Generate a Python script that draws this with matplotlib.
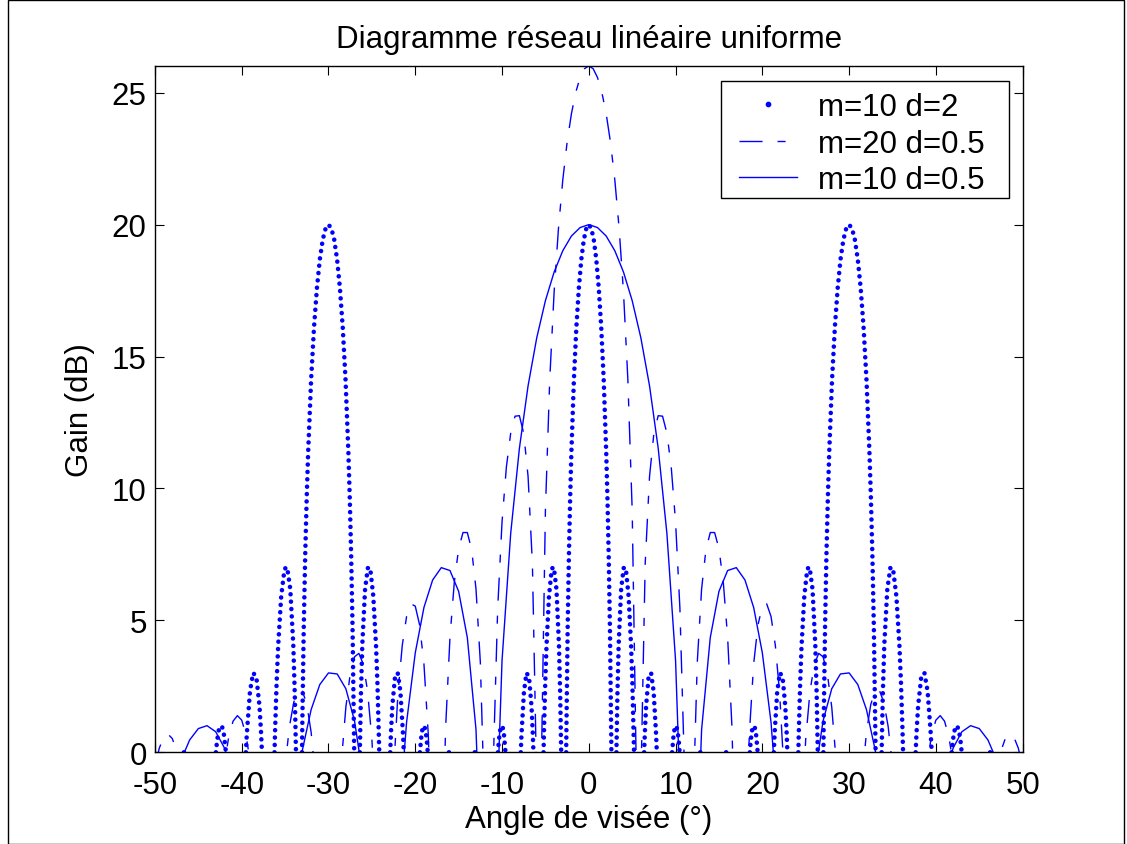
import numpy as np
import matplotlib
matplotlib.use("Agg")
import matplotlib.pyplot as plt
from matplotlib.lines import Line2D
from matplotlib.patches import Rectangle

plt.rcParams['font.family'] = ['Liberation Sans', 'DejaVu Sans']
plt.rcParams['axes.unicode_minus'] = False

NAN = float('nan')

title = "Diagramme réseau linéaire uniforme"
x_label = "Angle de visée (°)"
y_label = "Gain (dB)"
series_labels = ['m=10 d=2', 'm=20 d=0.5', 'm=10 d=0.5']
x_ticks = [-50, -40, -30, -20, -10, 0, 10, 20, 30, 40, 50]
y_ticks = [0, 5, 10, 15, 20, 25]

# m=10 d=2 (dotted): visible lobes, separated by NaN
angle_m10_d2 = [
    -46.660, -46.469, -46.249, NAN,
    -42.977, -42.844, -42.649, -42.454, -42.260, -42.067, -41.817, NAN,
    -39.520, -39.420, -39.050, -38.682, -38.316, -37.952, -37.771, -37.669, NAN,
    -36.221, -36.157, -35.980, -35.803, -35.451, -35.100, -34.925, -34.750, -34.402, -34.056, -33.883, -33.749, NAN,
    -33.055, -33.025, -32.854, -32.684, -32.514, -32.344, -32.005, -31.668, -31.332, -30.997, -30.664, -30.331,
    -30.000, -29.670, -29.341, -29.012, -28.685, -28.359, -28.034, -27.710, -27.549, -27.387, -27.226, -27.065, -27.036, NAN,
    -26.388, -26.264, -26.104, -25.785, -25.468, -25.309, -25.151, -24.835, -24.519, -24.362, -24.205, -24.148, NAN,
    -22.887, -22.800, -22.644, -22.334, -22.024, -21.715, -21.407, -21.325, NAN,
    -19.466, -19.269, -19.117, -18.966, -18.814, -18.664, -18.561, NAN,
    -16.119, -15.961, -15.825, NAN,
    -13.138, -13.003, -12.847, NAN,
    -10.469, -10.370, -10.224, -10.079, -9.933, -9.788, -9.599, NAN,
    -7.837, -7.759, -7.470, -7.181, -6.892, -6.604, -6.459, -6.379, NAN,
    -5.215, -5.164, -5.020, -4.876, -4.589, -4.301, -4.158, -4.014, -3.727, -3.440, -3.296, -3.184, NAN,
    -2.605, -2.579, -2.436, -2.292, -2.149, -2.006, -1.719, -1.433, -1.146, -0.860, -0.573, -0.287,
    0.000, 0.287, 0.573, 0.860, 1.146, 1.433, 1.719, 2.006, 2.149, 2.292, 2.436, 2.579, 2.605, NAN,
    3.184, 3.296, 3.440, 3.727, 4.014, 4.158, 4.301, 4.589, 4.876, 5.020, 5.164, 5.215, NAN,
    6.379, 6.459, 6.604, 6.892, 7.181, 7.470, 7.759, 7.837, NAN,
    9.599, 9.788, 9.933, 10.079, 10.224, 10.370, 10.469, NAN,
    12.847, 13.003, 13.138, NAN,
    15.825, 15.961, 16.119, NAN,
    18.561, 18.664, 18.814, 18.966, 19.117, 19.269, 19.466, NAN,
    21.325, 21.407, 21.715, 22.024, 22.334, 22.644, 22.800, 22.887, NAN,
    24.148, 24.205, 24.362, 24.519, 24.835, 25.151, 25.309, 25.468, 25.785, 26.104, 26.264, 26.388, NAN,
    27.036, 27.065, 27.226, 27.387, 27.549, 27.710, 28.034, 28.359, 28.685, 29.012, 29.341, 29.670,
    30.000, 30.331, 30.664, 30.997, 31.332, 31.668, 32.005, 32.344, 32.514, 32.684, 32.854, 33.025, 33.055, NAN,
    33.749, 33.883, 34.056, 34.402, 34.750, 34.925, 35.100, 35.451, 35.803, 35.980, 36.157, 36.221, NAN,
    37.669, 37.771, 37.952, 38.316, 38.682, 39.050, 39.420, 39.520, NAN,
    41.817, 42.067, 42.260, 42.454, 42.649, 42.844, 42.977, NAN,
    46.249, 46.469, 46.660,
]
gain_m10_d2 = [
    0, 0.11, 0, NAN,
    0, 0.43, 0.83, 1.00, 0.97, 0.71, 0, NAN,
    0, 0.66, 2.31, 3.01, 2.86, 1.75, 0.74, 0, NAN,
    0, 0.80, 2.63, 4.02, 5.91, 6.86, 7.02, 6.98, 6.18, 4.07, 2.17, 0, NAN,
    0, 0.89, 4.71, 7.47, 9.63, 11.38, 14.11, 16.11, 17.60, 18.69, 19.43, 19.86,
    20.00, 19.86, 19.43, 18.69, 17.60, 16.11, 14.11, 11.38, 9.63, 7.47, 4.71, 0.89, 0, NAN,
    0, 2.17, 4.07, 6.18, 6.98, 7.02, 6.86, 5.91, 4.02, 2.63, 0.80, 0, NAN,
    0, 0.74, 1.75, 2.86, 3.01, 2.31, 0.66, 0, NAN,
    0, 0.71, 0.97, 1.00, 0.83, 0.43, 0, NAN,
    0, 0.11, 0, NAN,
    0, 0.11, 0, NAN,
    0, 0.43, 0.83, 1.00, 0.97, 0.71, 0, NAN,
    0, 0.66, 2.31, 3.01, 2.86, 1.75, 0.74, 0, NAN,
    0, 0.80, 2.63, 4.02, 5.91, 6.86, 7.02, 6.98, 6.18, 4.07, 2.17, 0, NAN,
    0, 0.89, 4.71, 7.47, 9.63, 11.38, 14.11, 16.11, 17.60, 18.69, 19.43, 19.86,
    20.00, 19.86, 19.43, 18.69, 17.60, 16.11, 14.11, 11.38, 9.63, 7.47, 4.71, 0.89, 0, NAN,
    0, 2.17, 4.07, 6.18, 6.98, 7.02, 6.86, 5.91, 4.02, 2.63, 0.80, 0, NAN,
    0, 0.74, 1.75, 2.86, 3.01, 2.31, 0.66, 0, NAN,
    0, 0.71, 0.97, 1.00, 0.83, 0.43, 0, NAN,
    0, 0.11, 0, NAN,
    0, 0.11, 0, NAN,
    0, 0.43, 0.83, 1.00, 0.97, 0.71, 0, NAN,
    0, 0.66, 2.31, 3.01, 2.86, 1.75, 0.74, 0, NAN,
    0, 0.80, 2.63, 4.02, 5.91, 6.86, 7.02, 6.98, 6.18, 4.07, 2.17, 0, NAN,
    0, 0.89, 4.71, 7.47, 9.63, 11.38, 14.11, 16.11, 17.60, 18.69, 19.43, 19.86,
    20.00, 19.86, 19.43, 18.69, 17.60, 16.11, 14.11, 11.38, 9.63, 7.47, 4.71, 0.89, 0, NAN,
    0, 2.17, 4.07, 6.18, 6.98, 7.02, 6.86, 5.91, 4.02, 2.63, 0.80, 0, NAN,
    0, 0.74, 1.75, 2.86, 3.01, 2.31, 0.66, 0, NAN,
    0, 0.71, 0.97, 1.00, 0.83, 0.43, 0, NAN,
    0, 0.11, 0,
]

# m=20 d=0.5 (dashed): angle grid -50..50 step 0.5
angle_m20_d05 = np.arange(-50, 50.25, 0.5)
gain_m20_d05 = [
    -0.55, 0.16, 0.57, 0.69, 0.52, 0.05, -0.79, -2.07, -4.00, -6.95,
    -12.14, -29.9, -14.5, -7.84, -4.29, -2.00, -0.44, 0.58, 1.18, 1.39,
    1.22, 0.64, -0.41, -2.12, -4.82, -9.56, -23.1, -13.9, -6.57, -2.85,
    -0.53, 0.98, 1.90, 2.34, 2.32, 1.82, 0.76, -1.03, -4.03, -9.69,
    -30.0, -9.44, -3.53, -0.31, 1.71, 2.96, 3.62, 3.75, 3.35, 2.33,
    0.50, -2.68, -9.06, -23.5, -6.05, -0.77, 2.21, 4.05, 5.15, 5.63,
    5.54, 4.83, 3.35, 0.68, -4.45, -26.2, -5.42, 0.95, 4.36, 6.45,
    7.72, 8.33, 8.33, 7.68, 6.19, 3.41, -2.31, -23.8, -0.32, 5.46,
    8.73, 10.81, 12.10, 12.74, 12.76, 12.09, 10.46, 7.15, -1.24, -1.23,
    9.18, 14.14, 17.43, 19.84, 21.69, 23.12, 24.21, 25.02, 25.58, 25.91,
    26.02,
    25.91, 25.58, 25.02, 24.21, 23.12, 21.69, 19.84, 17.43, 14.14, 9.18,
    -1.23, -1.24, 7.15, 10.46, 12.09, 12.76, 12.74, 12.10, 10.81, 8.73,
    5.46, -0.32, -23.8, -2.31, 3.41, 6.19, 7.68, 8.33, 8.33, 7.72,
    6.45, 4.36, 0.95, -5.42, -26.2, -4.45, 0.68, 3.35, 4.83, 5.54,
    5.63, 5.15, 4.05, 2.21, -0.77, -6.05, -23.5, -9.06, -2.68, 0.50,
    2.33, 3.35, 3.75, 3.62, 2.96, 1.71, -0.31, -3.53, -9.44, -30.0,
    -9.69, -4.03, -1.03, 0.76, 1.82, 2.32, 2.34, 1.90, 0.98, -0.53,
    -2.85, -6.57, -13.9, -23.1, -9.56, -4.82, -2.12, -0.41, 0.64, 1.22,
    1.39, 1.18, 0.58, -0.44, -2.00, -4.29, -7.84, -14.5, -29.9, -12.14,
    -6.95, -4.00, -2.07, -0.79, 0.05, 0.52, 0.69, 0.57, 0.16, -0.55,
]

# m=10 d=0.5 (solid): angle grid -50..50 step 1
angle_m10_d05 = np.arange(-50, 51, 1)
gain_m10_d05 = [
    -5.27, -3.04, -1.44, -0.30, 0.47, 0.90, 1.01, 0.78, 0.17, -0.92,
    -2.67, -5.48, -10.58, -29.1, -12.43, -5.78, -2.19, 0.10, 1.62, 2.57,
    3.01, 2.97, 2.41, 1.19, -0.99, -4.96, -15.04, -11.98, -3.10, 1.14,
    3.77, 5.49, 6.53, 7.00, 6.89, 6.10, 4.35, 0.86, -8.26, -6.25,
    3.48, 8.30, 11.52, 13.89, 15.71, 17.12, 18.20, 19.01, 19.57, 19.89,
    20.00,
    19.89, 19.57, 19.01, 18.20, 17.12, 15.71, 13.89, 11.52, 8.30, 3.48,
    -6.25, -8.26, 0.86, 4.35, 6.10, 6.89, 7.00, 6.53, 5.49, 3.77,
    1.14, -3.10, -11.98, -15.04, -4.96, -0.99, 1.19, 2.41, 2.97, 3.01,
    2.57, 1.62, 0.10, -2.19, -5.78, -12.43, -29.1, -10.58, -5.48, -2.67,
    -0.92, 0.17, 0.78, 1.01, 0.90, 0.47, -0.30, -1.44, -3.04, -5.27,
]

blue = '#0000ff'
fs = 22.5
dash_pattern = (0, (16.6, 10.8, 5.8, 10.8))
dot_pattern = (0, (0.01, 1.6))

fig = plt.figure(figsize=(11.27, 8.45), dpi=100)
fig.patch.set_facecolor('white')
ax = fig.add_axes([0.1375, 0.1085, 0.7699, 0.8118])

ax.plot(angle_m10_d2, gain_m10_d2, color=blue, lw=3.3, linestyle=dot_pattern,
        dash_capstyle='round')
ax.plot(angle_m20_d05, gain_m20_d05, color=blue, lw=1.0, linestyle=dash_pattern)
ax.plot(angle_m10_d05, gain_m10_d05, color=blue, lw=1.0)

ax.set_xlim(-50, 50)
ax.set_ylim(0, 26)
ax.set_xticks(x_ticks)
ax.set_yticks(y_ticks)
ax.set_xticklabels([str(t) for t in x_ticks])
ax.set_yticklabels([str(t) for t in y_ticks])
ax.tick_params(direction='in', top=True, right=True, length=6.5, width=0.8,
               labelsize=fs, colors='black')
ax.tick_params(axis='x', pad=12.9)
ax.tick_params(axis='y', pad=6)
for sp in ax.spines.values():
    sp.set_linewidth(1.0)
    sp.set_color('black')

ax.set_title(title, fontsize=fs, pad=14)
ax.set_xlabel(x_label, fontsize=fs, labelpad=3)
ax.set_ylabel(y_label, fontsize=fs, labelpad=12)

handles = [
    Line2D([], [], color=blue, marker='o', markersize=3.1, linestyle='none'),
    Line2D([], [], color=blue, lw=1.0, linestyle=dash_pattern),
    Line2D([], [], color=blue, lw=1.0),
]
leg = ax.legend(handles, series_labels, loc='upper left',
                bbox_to_anchor=(0.6622, 0.9757), fontsize=fs, frameon=False,
                handlelength=1.87, handletextpad=0.67, labelspacing=0.2,
                borderpad=0.3, borderaxespad=0)

# legend box
fig.patches.append(Rectangle((721 / 1127, (845 - 199) / 845), 288 / 1127, 117 / 845,
                             transform=fig.transFigure, fill=True,
                             facecolor='none', edgecolor='black', lw=1.0,
                             zorder=5))

# outer frame of the picture
fig.patches.append(Rectangle((8 / 1127, 0.5 / 845), 1116 / 1127, 844 / 845,
                             transform=fig.transFigure, fill=False,
                             edgecolor='black', lw=1.0))

fig.savefig('out.png', dpi=100, facecolor='white')
